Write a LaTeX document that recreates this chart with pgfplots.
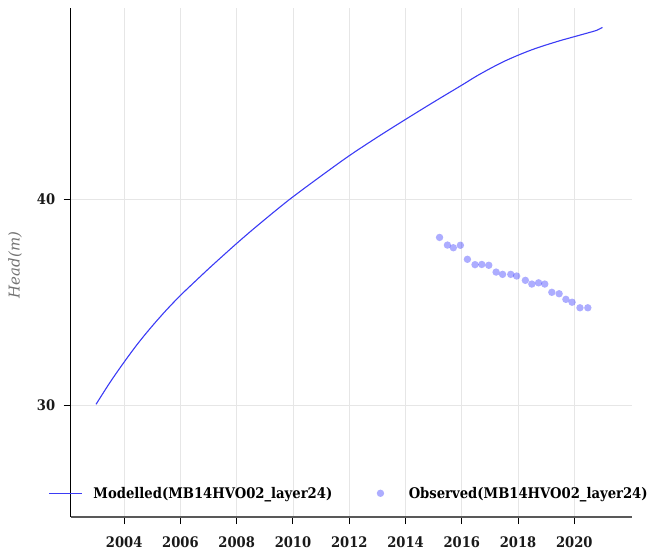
\documentclass[border=0pt]{standalone}
\usepackage{fontspec}
\setmainfont{DejaVu Serif Condensed}
\newfontfamily\labelfont{DejaVu Serif}
\usepackage{pgfplots}
\pgfplotsset{compat=1.18}
\definecolor{modblue}{HTML}{3B3BF5}
\definecolor{obsblue}{HTML}{0000FF}
\definecolor{gridgray}{HTML}{E6E6E6}
\begin{document}
\begin{tikzpicture}
\begin{axis}[
  name=ax,
  scale only axis,
  width=561.3bp, height=509bp,
  xmin=2002.1, xmax=2022.05,
  ymin=24.59, ymax=49.26,
  axis lines=left,
  axis line style={-},
  x axis line style={black!65, line width=1.3bp},
  y axis line style={black, line width=1bp},
  xtick={2004,2006,...,2020},
  ytick={30,40},
  grid=major,
  major grid style={gridgray, line width=0.9bp},
  tick align=outside,
  major tick length=7bp,
  tick style={black, line width=1bp},
  /pgf/number format/assume math mode=true,
  /pgf/number format/1000 sep={},
  tick label style={font=\fontsize{14.6}{16}\selectfont\bfseries, text=black!90},
  xticklabel style={yshift=-9bp},
  yticklabel style={xshift=-5bp},
  ylabel={Head(m)},
  ylabel style={at={(axis description cs:-0.099,0.495)}, anchor=center, rotate=0,
    font=\labelfont\fontsize{15}{17}\selectfont\itshape, text=black!55},
  legend columns=2,
  legend style={at={(axis description cs:-0.0399,0.0466)}, anchor=west,
    draw=none, fill=none, inner sep=0pt, font=\fontsize{14.7}{16}\selectfont\bfseries,
    /tikz/every even column/.append style={column sep=29.5bp}},
]
\addlegendimage{modblue, legend image code/.code={
    \path[draw=none, fill=none] (0bp,0bp) -- (43bp,0bp);
    \path[draw=none, fill=modblue] (0bp,-0.55bp) rectangle (33.4bp,0.55bp);}}
\addlegendentry{Modelled(MB14HVO02\_layer24)}
\addlegendimage{obsblue, legend image code/.code={
    \path[draw=none, fill=none] (0bp,0bp) -- (43bp,0bp);
    \path[draw=none, fill=obsblue, fill opacity=0.32] (16.7bp,0bp) circle[radius=3.7bp];}}
\addlegendentry{Observed(MB14HVO02\_layer24)}
\addplot[modblue, line width=1.1bp, smooth, forget plot]
coordinates {
(2003.0,30.05) (2003.5,31.12) (2004.0,32.10) (2004.5,33.02) (2005.0,33.85)
(2005.5,34.62) (2006.0,35.33) (2006.5,35.98) (2007.0,36.62) (2007.5,37.24)
(2008.0,37.85) (2008.5,38.44) (2009.0,39.01) (2009.5,39.57) (2010.0,40.11)
(2011.0,41.12) (2012.0,42.10) (2013.0,43.00) (2014.0,43.86) (2015.0,44.70)
(2016.0,45.52) (2016.5,45.94) (2017.0,46.32) (2017.5,46.67) (2018.0,46.97)
(2018.5,47.24) (2019.0,47.47) (2019.5,47.68) (2020.0,47.87) (2020.5,48.06)
(2020.8,48.18) (2021.0,48.32)
};
\addplot[only marks, mark=*, mark size=3.7bp, draw=none, draw opacity=0, forget plot,
  mark options={draw=none, draw opacity=0, fill=obsblue, fill opacity=0.32}]
coordinates {
(2015.21,38.14) (2015.49,37.77) (2015.70,37.64) (2015.95,37.76)
(2016.20,37.08) (2016.47,36.82) (2016.71,36.83) (2016.96,36.79)
(2017.22,36.46) (2017.45,36.35) (2017.74,36.35) (2017.95,36.27)
(2018.26,36.06) (2018.49,35.88) (2018.73,35.94) (2018.95,35.88)
(2019.20,35.48) (2019.46,35.41) (2019.70,35.14) (2019.92,35.00)
(2020.20,34.73) (2020.48,34.73)
};
\end{axis}
\pgfresetboundingbox
\path ([shift={(-70.7bp,-36bp)}]ax.south west) rectangle ([shift={(581.3bp,517bp)}]ax.south west);
\end{tikzpicture}
\end{document}
